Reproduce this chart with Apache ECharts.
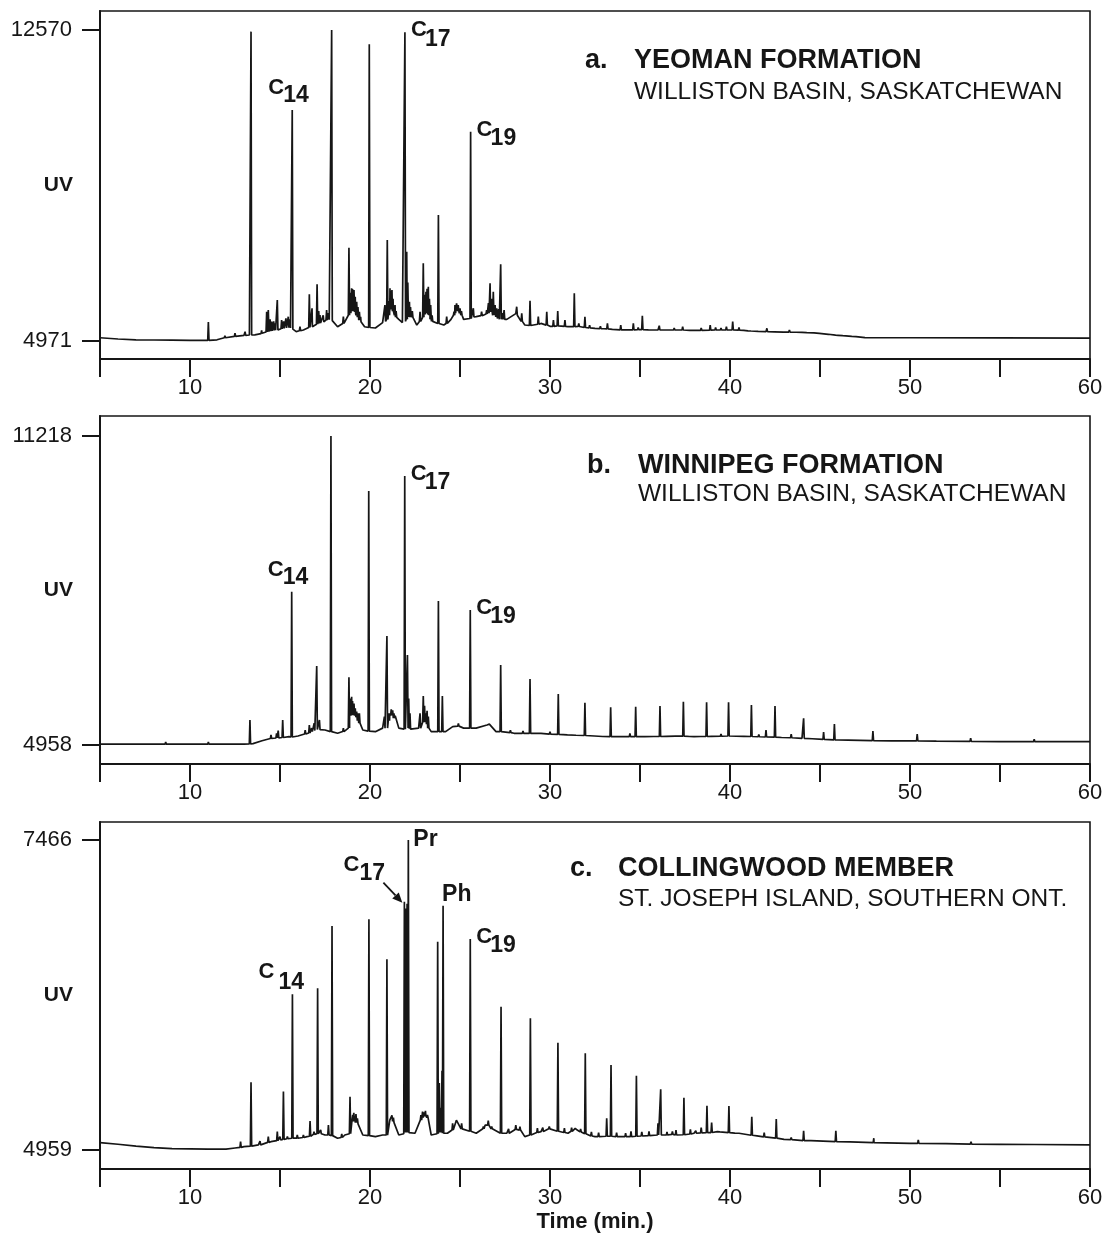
<!DOCTYPE html>
<html>
<head>
<meta charset="utf-8">
<title>Chromatograms</title>
<script src="https://cdn.jsdelivr.net/npm/echarts@6/dist/echarts.min.js"></script>
<style>
  html, body { margin: 0; padding: 0; background: #fff; }
  #chart { width: 1107px; height: 1236px; }
</style>
</head>
<body>
<div id="chart"></div>
<script>
// time axis (min.)
var timeRange = [5, 60];
var timeLabels = [10, 20, 30, 40, 50, 60];

// UV tick values printed on each panel
var uvTicksA = [4971, 12570];
var uvTicksB = [4958, 11218];
var uvTicksC = [4959, 7466];

// baseline (unresolved hump): [time, UV]
var baseA = [[5, 5050], [6, 5020], [7, 5000], [8, 4995], [9, 4990], [10, 4985], [11, 4985], [11.5, 5000],
  [12, 5060], [12.5, 5090], [13, 5110], [13.3, 5118], [13.6, 5120], [14, 5160], [14.4, 5200], [14.8, 5240],
  [15.2, 5290], [15.5, 5300], [15.9, 5200], [16.3, 5240], [16.8, 5320], [17.3, 5420], [17.7, 5500],
  [18.2, 5320], [18.6, 5420], [18.9, 5700], [19.2, 5650], [19.5, 5443], [19.7, 5320], [20.3, 5289],
  [20.7, 5420], [21.1, 5800], [21.3, 5700], [21.6, 5500], [21.8, 5420], [22.3, 5600], [22.6, 5360],
  [23.1, 5700], [23.5, 5420], [24.1, 5362], [24.5, 5500], [24.8, 5800], [25.2, 5500], [25.9, 5565],
  [26.3, 5600], [26.7, 5680], [27.1, 5500], [27.6, 5500], [28.1, 5640], [28.6, 5362], [29, 5340],
  [29.5, 5400], [30, 5330], [30.5, 5340], [31, 5320], [31.6, 5330], [32, 5300], [32.5, 5281], [33, 5270],
  [34, 5240], [35, 5250], [36, 5240], [37, 5240], [38, 5228], [39, 5240], [40, 5240], [41, 5220],
  [42, 5198], [43, 5190], [44, 5180], [45, 5159], [46, 5110], [47, 5076], [47.5, 5052], [50, 5050],
  [55, 5045], [60, 5040]];

var baseB = [[5, 4975], [13, 4975], [13.5, 4985], [14, 5045], [14.5, 5094], [15, 5100], [15.5, 5126],
  [16, 5140], [16.5, 5195], [17, 5280], [17.5, 5262], [18.2, 5195], [18.5, 5262], [18.9, 5600],
  [19.3, 5500], [19.6, 5262], [20.3, 5228], [20.7, 5300], [21.1, 5600], [21.4, 5550], [21.6, 5300],
  [22.3, 5262], [22.7, 5300], [23.0, 5450], [23.4, 5228], [24.2, 5228], [24.7, 5363], [25.2, 5300],
  [26, 5300], [26.5, 5363], [27, 5228], [28, 5195], [29.5, 5195], [31, 5161], [33, 5126], [35, 5126],
  [37, 5140], [38, 5126], [40, 5140], [42, 5120], [44, 5094], [46, 5059], [48, 5045], [50, 5040],
  [55, 5025], [60, 5025]];

var baseC = [[5, 5018], [6, 5005], [7, 4990], [8, 4978], [9, 4970], [10, 4968], [11, 4966], [12, 4966],
  [12.5, 4975], [13, 4986], [13.8, 5000], [14.5, 5026], [15, 5040], [15.5, 5054], [16, 5054],
  [16.5, 5067], [17, 5094], [17.5, 5080], [18.2, 5054], [18.6, 5080], [19.0, 5200], [19.4, 5180],
  [19.6, 5080], [20.3, 5067], [20.7, 5080], [21.1, 5200], [21.4, 5180], [21.6, 5080], [22.5, 5094],
  [22.9, 5230], [23.1, 5240], [23.4, 5080], [24.3, 5094], [24.8, 5200], [25.2, 5121], [25.9, 5094],
  [26.4, 5161], [26.9, 5121], [27.6, 5094], [28.2, 5134], [28.6, 5067], [29.5, 5107], [30, 5134],
  [31, 5094], [31.4, 5134], [32.5, 5067], [34, 5067], [36, 5080], [37.5, 5080], [38, 5094],
  [39.3, 5107], [40.5, 5094], [41.5, 5073], [43, 5045], [44.5, 5034], [46, 5026], [48, 5018],
  [50, 5013], [52, 5010], [55, 5005], [60, 5000]];

// resolved peaks: [time, foot, apex]
var peaksA = [[11.02, 4985, 5435], [11.94, 5050, 5101], [12.5, 5085, 5159], [13.06, 5110, 5198],
  [13.39, 5118, 12530], [13.98, 5150, 5230], [14.26, 5190, 5687], [14.35, 5200, 5728], [14.45, 5210, 5500],
  [14.54, 5220, 5443], [14.65, 5230, 5450], [14.72, 5235, 5403], [14.85, 5240, 5973], [15.09, 5270, 5484],
  [15.2, 5280, 5450], [15.33, 5290, 5525], [15.46, 5295, 5565], [15.55, 5290, 5500],
  [15.68, 5260, 10614], [16.11, 5220, 5320], [16.63, 5300, 6112], [16.78, 5320, 5770], [17.06, 5380, 6356],
  [17.15, 5400, 5700], [17.22, 5410, 5606], [17.4, 5440, 5600], [17.59, 5480, 5728], [17.7, 5490, 5650],
  [17.87, 5470, 12570], [18.52, 5400, 5565], [18.83, 5600, 7251], [18.9, 5650, 6150],
  [18.98, 5700, 6258], [19.03, 5700, 6240], [19.11, 5680, 6217], [19.18, 5650, 6050], [19.26, 5600, 5932],
  [19.33, 5550, 5800], [19.41, 5480, 5687], [19.48, 5450, 5560], [19.96, 5300, 12219],
  [20.83, 5450, 5850], [20.96, 5500, 7438], [21.05, 5600, 5950], [21.11, 5780, 6258], [21.16, 5750, 6200],
  [21.22, 5740, 6217], [21.28, 5700, 6000], [21.39, 5600, 5850], [21.45, 5550, 5700],
  [21.94, 5450, 12512], [22.04, 5500, 7153], [22.1, 5560, 6400], [22.19, 5560, 5932], [22.25, 5550, 5800],
  [22.35, 5550, 5700], [22.78, 5450, 5687], [22.96, 5550, 6869], [23.03, 5620, 6100],
  [23.11, 5680, 6176], [23.17, 5650, 6250], [23.24, 5620, 6298], [23.3, 5600, 6000], [23.37, 5500, 5850],
  [23.45, 5450, 5600], [23.8, 5400, 8049], [24.26, 5400, 5565],
  [24.67, 5600, 5687], [24.72, 5650, 5850], [24.81, 5780, 5891], [24.9, 5700, 5850], [25.0, 5650, 5770],
  [25.08, 5600, 5700], [25.59, 5520, 10084], [25.74, 5560, 5770],
  [26.2, 5590, 5687], [26.48, 5630, 5728], [26.58, 5650, 5900], [26.67, 5680, 6380], [26.76, 5650, 6000],
  [26.85, 5600, 6176], [26.95, 5560, 5850], [27.04, 5520, 5770], [27.15, 5500, 5750],
  [27.26, 5500, 6845], [27.35, 5500, 5650], [27.45, 5500, 5728], [28.15, 5600, 5809], [28.43, 5450, 5647],
  [28.89, 5350, 5956], [29.35, 5380, 5565], [29.82, 5360, 5687], [30.19, 5330, 5484], [30.43, 5340, 5704],
  [30.83, 5330, 5484], [31.35, 5320, 6136], [31.6, 5325, 5400], [31.94, 5300, 5565], [32.2, 5290, 5360],
  [32.8, 5275, 5330], [33.19, 5265, 5403], [33.5, 5255, 5300], [33.93, 5245, 5362], [34.2, 5242, 5290],
  [34.63, 5245, 5403], [34.9, 5248, 5300], [35.13, 5250, 5589], [35.5, 5245, 5290], [36.07, 5240, 5345],
  [36.4, 5240, 5280], [36.9, 5240, 5290], [37.37, 5240, 5320], [37.8, 5232, 5270], [38.0, 5228, 5260],
  [38.4, 5232, 5290], [38.9, 5238, 5362], [39.2, 5240, 5300], [39.5, 5240, 5290], [39.8, 5240, 5320],
  [40.15, 5240, 5443], [40.5, 5235, 5300], [40.8, 5230, 5270], [41.2, 5215, 5260], [41.6, 5205, 5250],
  [42.05, 5198, 5281], [42.5, 5195, 5230], [43.0, 5190, 5225], [43.3, 5188, 5240], [43.7, 5185, 5215],
  [44.3, 5175, 5200], [44.7, 5168, 5195], [45.0, 5159, 5176], [45.5, 5135, 5165], [45.9, 5115, 5135],
  [46.3, 5100, 5120], [46.8, 5082, 5100]];

var peaksB = [[5.65, 4975, 5013], [6.5, 4975, 5010], [8.65, 4975, 5019], [11.02, 4975, 5019],
  [13.33, 4978, 5465], [14.5, 5090, 5160], [14.81, 5100, 5195], [14.9, 5100, 5250], [15.15, 5110, 5465],
  [15.65, 5120, 8064], [16.4, 5180, 5260], [16.63, 5200, 5363], [16.76, 5230, 5300], [16.9, 5250, 5400],
  [17.04, 5270, 6559], [17.19, 5270, 5465], [17.83, 5230, 11218], [18.52, 5230, 5300], [18.83, 5300, 6330],
  [18.9, 5550, 5900], [18.98, 5550, 5937], [19.03, 5560, 5850], [19.11, 5550, 5800], [19.18, 5520, 5700],
  [19.26, 5500, 5634], [19.33, 5450, 5600], [19.41, 5400, 5600], [19.93, 5240, 10104], [20.8, 5300, 5532],
  [20.94, 5300, 7166], [21.05, 5450, 5600], [21.11, 5550, 5634], [21.18, 5560, 5680], [21.26, 5550, 5660],
  [21.33, 5500, 5600], [21.93, 5280, 10408], [22.08, 5300, 6781], [22.15, 5290, 5900], [22.22, 5280, 5600],
  [22.78, 5300, 5600], [22.96, 5420, 5951], [23.03, 5420, 5750], [23.11, 5400, 5600], [23.17, 5380, 5650],
  [23.24, 5300, 5532], [23.8, 5230, 7875], [24.02, 5230, 5951], [24.63, 5330, 5363], [24.91, 5340, 5397],
  [25.57, 5300, 7693], [25.93, 5300, 5330], [26.63, 5340, 5380], [27.26, 5230, 6579], [27.8, 5210, 5260],
  [28.33, 5195, 5228], [28.5, 5195, 5240], [28.89, 5195, 6295], [29.2, 5195, 5230], [29.54, 5190, 5210],
  [30.0, 5180, 5228], [30.46, 5175, 5991], [31.0, 5162, 5200], [31.48, 5155, 5180], [31.94, 5150, 5815],
  [32.5, 5140, 5170], [32.96, 5130, 5160], [33.37, 5126, 5722], [33.8, 5126, 5160], [34.44, 5126, 5195],
  [34.76, 5126, 5734], [35.3, 5128, 5160], [35.8, 5130, 5170], [36.11, 5130, 5748], [36.5, 5134, 5170],
  [37.0, 5138, 5175], [37.41, 5138, 5835], [37.8, 5130, 5165], [38.4, 5130, 5160], [38.7, 5130, 5823],
  [39.0, 5132, 5165], [39.5, 5135, 5180], [39.92, 5140, 5823], [40.4, 5135, 5170], [40.8, 5133, 5165],
  [41.19, 5130, 5768], [41.6, 5125, 5170], [42.0, 5120, 5262], [42.5, 5118, 5748], [42.9, 5110, 5150],
  [43.4, 5105, 5180], [44.09, 5094, 5499], [44.6, 5085, 5120], [45.2, 5070, 5220], [45.8, 5062, 5383],
  [46.6, 5055, 5080], [47.94, 5045, 5242], [49.0, 5042, 5060], [50.4, 5040, 5181], [51.5, 5036, 5050],
  [53.37, 5030, 5094], [56.9, 5025, 5074]];

var peaksC = [[12.81, 4980, 5026], [13.39, 4990, 5506], [13.89, 5000, 5030], [14.35, 5020, 5067],
  [14.85, 5035, 5107], [15.0, 5040, 5067], [15.19, 5045, 5431], [15.41, 5050, 5067], [15.69, 5054, 6218],
  [15.96, 5054, 5080], [16.3, 5060, 5080], [16.67, 5070, 5194], [16.89, 5085, 5107], [17.09, 5090, 6267],
  [17.26, 5090, 5121], [17.69, 5080, 5161], [17.89, 5075, 6771], [18.43, 5060, 5090], [18.89, 5090, 5390],
  [19.04, 5190, 5242], [19.1, 5190, 5260], [19.17, 5190, 5229], [19.22, 5180, 5250], [19.3, 5170, 5215],
  [19.94, 5075, 6825], [20.94, 5080, 6501], [21.15, 5190, 5215], [21.22, 5190, 5240], [21.3, 5180, 5220],
  [21.91, 5090, 6967], [21.97, 5100, 6600], [22.0, 5100, 6913], [22.06, 5100, 6950], [22.13, 5100, 7466],
  [22.83, 5200, 5242], [22.92, 5220, 5270], [23.0, 5230, 5264], [23.08, 5235, 5275], [23.19, 5220, 5242],
  [23.76, 5090, 6644], [23.85, 5100, 5500], [23.93, 5100, 5300], [24.0, 5100, 5600], [24.06, 5095, 6935],
  [24.59, 5120, 5175], [24.85, 5190, 5215], [25.09, 5130, 5175], [25.57, 5110, 6665],
  [26.3, 5130, 5148], [26.57, 5160, 5196], [26.76, 5130, 5148], [27.28, 5094, 6118], [27.7, 5094, 5130],
  [28.1, 5125, 5160], [28.33, 5120, 5148], [28.91, 5080, 6024], [29.3, 5100, 5135], [29.6, 5108, 5140],
  [29.96, 5130, 5148], [30.44, 5110, 5827], [30.8, 5100, 5135], [31.2, 5110, 5140], [31.48, 5120, 5134],
  [31.7, 5105, 5130], [31.96, 5090, 5741], [32.3, 5072, 5105], [32.7, 5067, 5100], [33.15, 5070, 5215],
  [33.39, 5070, 5646], [33.7, 5067, 5100], [34.2, 5067, 5095], [34.5, 5067, 5110], [34.8, 5070, 5560],
  [35.1, 5072, 5105], [35.5, 5075, 5110], [36.0, 5080, 5175], [36.15, 5080, 5450], [36.5, 5080, 5105],
  [36.8, 5085, 5110], [37.0, 5080, 5120], [37.44, 5082, 5382], [37.8, 5088, 5125], [38.1, 5094, 5115],
  [38.4, 5097, 5140], [38.72, 5100, 5317], [38.98, 5100, 5180], [39.4, 5105, 5120], [39.94, 5100, 5315],
  [40.3, 5095, 5105], [41.21, 5078, 5228], [41.9, 5065, 5099], [42.57, 5055, 5210], [43.4, 5043, 5060],
  [44.09, 5035, 5113], [45.88, 5027, 5113], [46.7, 5024, 5040], [47.99, 5018, 5054], [50.46, 5013, 5040],
  [53.39, 5007, 5026], [56.95, 5003, 5013]];

// panel captions
var captions = [
  ['a.', 'YEOMAN FORMATION', 'WILLISTON BASIN, SASKATCHEWAN'],
  ['b.', 'WINNIPEG FORMATION', 'WILLISTON BASIN, SASKATCHEWAN'],
  ['c.', 'COLLINGWOOD MEMBER', 'ST. JOSEPH ISLAND, SOUTHERN ONT.']
];

// peak labels: [panel, text, subscript, time, apex, placement]
var peakLabels = [
  [0, 'C', '14', 15.68, 10614, 'above'],
  [0, 'C', '17', 21.94, 12512, 'right'],
  [0, 'C', '19', 25.59, 10084, 'right'],
  [1, 'C', '14', 15.65, 8064, 'above'],
  [1, 'C', '17', 21.93, 10408, 'right'],
  [1, 'C', '19', 25.57, 7693, 'right'],
  [2, 'C', '14', 15.69, 6218, 'aboveLeft'],
  [2, 'C', '17', 21.91, 6967, 'arrow'],
  [2, 'Pr', '', 22.13, 7466, 'pr'],
  [2, 'Ph', '', 24.06, 6935, 'ph'],
  [2, 'C', '19', 25.57, 6665, 'right']
];

var INK = '#161616';
var FONT = '"Liberation Sans", Arial, Helvetica, sans-serif';
var PEAK_HALF = 0.035;

// layout per panel (pixels) and axis extents
var layout = [
  { top: 11, height: 348, yMin: 4531, yMax: 13034, ticks: uvTicksA, base: baseA, peaks: peaksA,
    cap: [585, 634, 61, 92], uvPad: 14 },
  { top: 416, height: 348, yMin: 4573, yMax: 11623, ticks: uvTicksB, base: baseB, peaks: peaksB,
    cap: [587, 638, 466, 494], uvPad: 8 },
  { top: 822, height: 347, yMin: 4805, yMax: 7612, ticks: uvTicksC, base: baseC, peaks: peaksC,
    cap: [570, 618, 869, 899], uvPad: 2 }
];

function buildTrace(base, peaks) {
  var pts = base.map(function (p) { return [p[0], p[1]]; });
  peaks.forEach(function (p) {
    pts.push([p[0] - PEAK_HALF, p[1]], [p[0], p[2]], [p[0] + PEAK_HALF, p[1]]);
  });
  return pts.sort(function (a, b) { return a[0] - b[0]; });
}

var chart = echarts.init(document.getElementById('chart'), null, { renderer: 'canvas' });

var option = {
  animation: false,
  backgroundColor: '#fff',
  grid: layout.map(function (p) {
    return { left: 100, width: 990, top: p.top, height: p.height, show: true,
      containLabel: false, outerBoundsMode: 'none',
      borderColor: INK, borderWidth: 1.6, backgroundColor: 'transparent' };
  }),
  xAxis: layout.map(function (p, i) {
    return {
      gridIndex: i, type: 'value', min: timeRange[0], max: timeRange[1], interval: 5,
      axisLine: { onZero: false, lineStyle: { color: INK, width: 2 } },
      axisTick: { length: 18, lineStyle: { color: INK, width: 2 } },
      axisLabel: { margin: 18, fontSize: 22, color: INK, fontFamily: FONT,
        formatter: function (v) { return timeLabels.indexOf(v) >= 0 ? String(v) : ''; } },
      splitLine: { show: false },
      name: i === 2 ? 'Time (min.)' : '',
      nameLocation: 'middle', nameGap: 42, nameMoveOverlap: false,
      nameTextStyle: { fontSize: 22, fontWeight: 'bold', color: INK, fontFamily: FONT }
    };
  }),
  yAxis: layout.map(function (p, i) {
    return {
      gridIndex: i, type: 'value', min: p.yMin, max: p.yMax,
      axisLine: { show: true, onZero: false, lineStyle: { color: INK, width: 2 } },
      axisTick: { show: true, length: 18, customValues: p.ticks, lineStyle: { color: INK, width: 2 } },
      axisLabel: { margin: 28, fontSize: 22, color: INK, fontFamily: FONT, customValues: p.ticks,
        formatter: function (v) { return String(v); } },
      splitLine: { show: false },
      name: 'UV', nameLocation: 'middle', nameRotate: 0, nameGap: 27, nameMoveOverlap: false,
      nameTextStyle: { fontSize: 21, fontWeight: 'bold', color: INK, fontFamily: FONT,
        padding: [p.uvPad, 0, 0, 0] }
    };
  }),
  series: layout.map(function (p, i) {
    return {
      type: 'line', xAxisIndex: i, yAxisIndex: i,
      data: buildTrace(p.base, p.peaks),
      showSymbol: false, symbol: 'none',
      lineStyle: { color: INK, width: 1.7 },
      z: 3
    };
  })
};

chart.setOption(option);

// label placement, offsets in pixels from the peak apex
var place = {
  above: { c: [-24, -22], s: [-9, -14] },
  aboveLeft: { c: [-34, -22], s: [-14, -12] },
  right: { c: [6, -2], s: [20, 7] },
  arrow: { c: [-61, -37], s: [-45, -28], arrow: [[-21, -19], [-2, 1]] },
  pr: { c: [5, 0] },
  ph: { c: [-1, -11] }
};

function txt(x, y, text, size, bold) {
  return {
    type: 'text', x: x, y: y, silent: true, z: 10,
    style: { text: text, fill: INK, font: (bold ? 'bold ' : '') + size + 'px ' + FONT,
      textAlign: 'left', textVerticalAlign: 'middle', align: 'left', verticalAlign: 'middle' }
  };
}

var elements = [];

captions.forEach(function (c, i) {
  var pos = layout[i].cap;
  elements.push(txt(pos[0], pos[2], c[0], 27, true));
  elements.push(txt(pos[1], pos[2], c[1], 27, true));
  elements.push(txt(pos[1], pos[3], c[2], 24.5, false));
});

peakLabels.forEach(function (l) {
  var pt = chart.convertToPixel({ seriesIndex: l[0] }, [l[3], l[4]]);
  var st = place[l[5]];
  var isName = !l[2];
  elements.push(txt(pt[0] + st.c[0], pt[1] + st.c[1], l[1], isName ? 23 : 22, true));
  if (l[2]) {
    elements.push(txt(pt[0] + st.s[0], pt[1] + st.s[1], l[2], 23, true));
  }
  if (st.arrow) {
    var a = st.arrow;
    var x1 = pt[0] + a[0][0], y1 = pt[1] + a[0][1];
    var x2 = pt[0] + a[1][0], y2 = pt[1] + a[1][1];
    var dx = x2 - x1, dy = y2 - y1, len = Math.sqrt(dx * dx + dy * dy);
    var ux = dx / len, uy = dy / len;
    var hl = 10, hw = 4.5;
    var bx = x2 - ux * hl, by = y2 - uy * hl;
    elements.push({ type: 'line', silent: true, z: 10,
      shape: { x1: x1, y1: y1, x2: bx, y2: by }, style: { stroke: INK, lineWidth: 1.8 } });
    elements.push({ type: 'polygon', silent: true, z: 10,
      shape: { points: [[x2, y2], [bx - uy * hw, by + ux * hw], [bx + uy * hw, by - ux * hw]] },
      style: { fill: INK } });
  }
});

chart.setOption({ graphic: { elements: elements } });
</script>
</body>
</html>
